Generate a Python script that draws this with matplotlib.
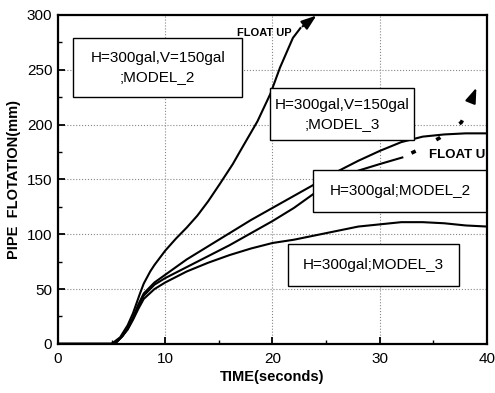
import matplotlib
matplotlib.use("Agg")
import matplotlib.pyplot as plt
from matplotlib.patches import Rectangle

plt.rcParams["font.family"] = ["Liberation Sans", "DejaVu Sans"]

# time (s) and pipe flotation (mm)
t_model2_hv = [0, 5, 5.8, 6.5, 7, 7.65, 8, 8.6, 9, 10, 11, 12, 13, 14, 15.1, 16.3, 17,
               18.6, 19.8, 20.7, 21.9, 22.6]
v_model2_hv = [0, 0, 6, 17, 28, 46, 55, 66, 72, 85, 96, 106, 117, 130, 146, 164, 176,
               203, 228, 252, 279, 288]

t_common = [0, 5, 5.5, 6, 6.5, 7, 7.5, 8, 9, 10, 12, 14, 16, 18, 20, 22, 24,
            26, 28, 30, 32, 34, 36, 38, 40]
v_model3_hv = [0, 0, 2, 7, 14, 24, 36, 46, 56, 63, 77, 89, 101, 113, 124, 135, 146,
               157, 167, 176, 184, 189, 191, 192, 192]
v_model3_h = [0, 0, 2, 7, 13, 22, 32, 41, 50, 56, 66, 74, 81, 87, 92, 95, 99,
              103, 107, 109, 111, 111, 110, 108, 107]

t_model2_h = [0, 5, 5.5, 6, 6.5, 7, 7.5, 8, 9, 10, 12, 14, 16, 18, 20, 22, 24,
              26, 28, 30, 32.1]
v_model2_h = [0, 0, 2, 7, 14, 23, 34, 44, 54, 60, 70, 80, 90, 101, 112, 124, 138,
              149, 158, 164, 170]

# dashed "float up" continuation of H=300gal;MODEL_2
float_t = [32.1, 33.8, 35.6, 37.6, 38.2]
float_v = [170, 178, 188, 202, 214]

x_ticks = [0, 10, 20, 30, 40]
y_ticks = [0, 50, 100, 150, 200, 250, 300]

fig = plt.figure(figsize=(4.95, 3.93), dpi=100)
ax = fig.add_axes([0.117, 0.125, 0.867, 0.837])

for t, v in [(t_model2_hv, v_model2_hv), (t_common, v_model3_hv),
             (t_model2_h, v_model2_h), (t_common, v_model3_h)]:
    ax.plot(t, v, color="black", lw=1.5, zorder=3)

ax.plot(float_t, float_v, color="black", lw=2.6, ls=(5, (1.3, 6.5)), zorder=3)

arrow = dict(arrowstyle="-|>,head_length=0.9,head_width=0.32", color="black", lw=1.5)
ax.annotate("", xy=(24.3, 301), xytext=(22.6, 288), arrowprops=arrow,
            annotation_clip=False, zorder=4)
ax.annotate("", xy=(39.1, 236), xytext=(38.4, 219), arrowprops=arrow, zorder=4)

ax.text(16.7, 283.5, "FLOAT UP", fontsize=8, fontweight="bold", va="center", zorder=5)
fu = ax.text(34.6, 172, "FLOAT UP", fontsize=9.5, fontweight="bold", va="center",
             zorder=5)
fu.set_clip_on(True)
fu.set_clip_box(ax.bbox)

boxes = [
    ((1.4, 225), 15.8, 54, "H=300gal,V=150gal\n;MODEL_2"),
    ((19.8, 186), 13.4, 47, "H=300gal,V=150gal\n;MODEL_3"),
    ((23.8, 120), 16.5, 39, "H=300gal;MODEL_2"),
    ((21.4, 53), 16.0, 38, "H=300gal;MODEL_3"),
]
for (x0, y0), w, h, label in boxes:
    ax.add_patch(Rectangle((x0, y0), w, h, facecolor="white", edgecolor="black",
                           lw=1.0, zorder=4, clip_on=True))
    cx = x0 + (min(x0 + w, 40) - x0) / 2
    ax.text(cx, y0 + h / 2, label, ha="center", va="center", fontsize=11,
            linespacing=1.45, zorder=5)

ax.set_xlim(0, 40)
ax.set_ylim(0, 300)
ax.set_xticks(x_ticks)
ax.set_yticks(y_ticks)
ax.set_xticks(range(5, 40, 10), minor=True)
ax.set_yticks(range(25, 300, 50), minor=True)
ax.tick_params(which="both", direction="in", labelsize=11)
ax.tick_params(which="major", length=5, width=1.3)
ax.tick_params(which="minor", length=3, width=1.0)
ax.tick_params(axis="x", pad=6)
ax.tick_params(axis="y", pad=4)
ax.grid(True, which="major", color="#888888", ls=":", lw=0.8)
ax.set_axisbelow(True)
for sp in ax.spines.values():
    sp.set_linewidth(1.6)
    sp.set_zorder(6)

ax.set_xlabel("TIME(seconds)", fontsize=10.5, fontweight="bold", labelpad=3)
ax.set_ylabel("PIPE  FLOTATION(mm)", fontsize=10.5, fontweight="bold", labelpad=4)

fig.savefig("out.png", dpi=100)
